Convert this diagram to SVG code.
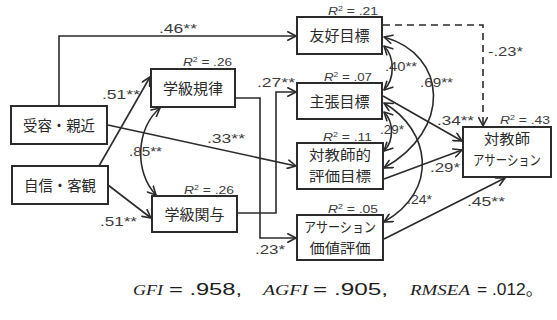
<svg xmlns="http://www.w3.org/2000/svg" width="557" height="320" viewBox="0 0 557 320">
  <defs>
    <marker id="arr" viewBox="0 0 10 10" refX="9.2" refY="5" markerWidth="10" markerHeight="10" markerUnits="userSpaceOnUse" orient="auto-start-reverse">
      <path d="M1,0.8 L9.2,5 L1,9.2" fill="none" stroke="#2b2b2b" stroke-width="1.6" stroke-linecap="round" stroke-linejoin="round"/>
    </marker>
    <style>
      .box { fill: #fff; stroke: #2b2b2b; stroke-width: 2; }
      .lbl { font-family: "Noto Sans CJK JP", "Noto Sans CJK SC", sans-serif; font-size: 15px; fill: #2b2b2b; text-anchor: middle; }
      .lbl2 { font-size: 14px; }
      .wire { fill: none; stroke: #2b2b2b; stroke-width: 1.6; }
      .path { marker-end: url(#arr); }
      .corr { marker-start: url(#arr); marker-end: url(#arr); }
      .dash { stroke-dasharray: 7 5; }
      .coef { font-family: "Liberation Sans", Arial, sans-serif; font-size: 13px; fill: #3c3c3c; }
      .r2 { font-family: "Liberation Sans", Arial, sans-serif; font-size: 11px; fill: #3c3c3c; text-anchor: end; }
      .fit { font-family: "Liberation Sans", "Noto Sans CJK JP", sans-serif; font-size: 16px; fill: #1e1e1e; }
      .fiti { font-family: "Liberation Serif", "Times New Roman", serif; font-style: italic; font-size: 15px; fill: #1e1e1e; }
    </style>
  </defs>

  <!-- paths and correlations -->
  <g id="connectors">
    <path class="wire path" d="M59,105 V36 H296"/>
    <path class="wire path" d="M108,125 L296,166"/>
    <path class="wire path" d="M99,166 L150,77"/>
    <path class="wire path" d="M108,185 L151,218"/>
    <path class="wire corr" d="M160,108 C136,128 134,172 156,195"/>
    <path class="wire path" d="M236,98 H260 V238 H296"/>
    <path class="wire path" d="M238,213 H276 V92 H296"/>
    <path class="wire path dash" d="M383,25 H483 V126"/>
    <path class="wire path" d="M383,96 L462,141"/>
    <path class="wire path" d="M384,179 L462,150"/>
    <path class="wire path" d="M384,239 L505,178"/>
    <path class="wire corr" d="M384,46 C395,57 395,79 384,90"/>
    <path class="wire corr" d="M384,37 C448,55 452,130 384,168"/>
    <path class="wire corr" d="M384,112 C394,122 394,141 384,151"/>
    <path class="wire corr" d="M384,103 C430,130 440,190 384,222"/>

    <text class="coef" x="159" y="33" textLength="38" lengthAdjust="spacingAndGlyphs">.46**</text>
    <text class="coef" x="207" y="143" textLength="38" lengthAdjust="spacingAndGlyphs">.33**</text>
    <text class="coef" x="102" y="99" textLength="38" lengthAdjust="spacingAndGlyphs">.51**</text>
    <text class="coef" x="100" y="226" textLength="37" lengthAdjust="spacingAndGlyphs">.51**</text>
    <text class="coef" x="129" y="156" textLength="33" lengthAdjust="spacingAndGlyphs">.85**</text>
    <text class="coef" x="257" y="87" textLength="38" lengthAdjust="spacingAndGlyphs">.27**</text>
    <text class="coef" x="255" y="254" textLength="30" lengthAdjust="spacingAndGlyphs">.23*</text>
    <text class="coef" x="488" y="56" textLength="35" lengthAdjust="spacingAndGlyphs">-.23*</text>
    <text class="coef" x="385" y="71" textLength="32" lengthAdjust="spacingAndGlyphs">.40**</text>
    <text class="coef" x="420" y="87" textLength="33" lengthAdjust="spacingAndGlyphs">.69**</text>
    <text class="coef" x="437" y="125" textLength="37" lengthAdjust="spacingAndGlyphs">.34**</text>
    <text class="coef" x="380" y="134" textLength="24" lengthAdjust="spacingAndGlyphs">.29*</text>
    <text class="coef" x="430" y="172" textLength="30" lengthAdjust="spacingAndGlyphs">.29*</text>
    <text class="coef" x="407" y="204" textLength="25" lengthAdjust="spacingAndGlyphs">.24*</text>
    <text class="coef" x="467" y="206" textLength="38" lengthAdjust="spacingAndGlyphs">.45**</text>
  </g>

  <g id="juyo">
    <rect class="box" x="11" y="106" width="96" height="38"/>
    <text class="lbl" x="59" y="130.5" textLength="72" lengthAdjust="spacingAndGlyphs">受容・親近</text>
  </g>
  <g id="jishin">
    <rect class="box" x="12" y="166" width="96" height="38"/>
    <text class="lbl" x="60" y="191" textLength="72" lengthAdjust="spacingAndGlyphs">自信・客観</text>
  </g>
  <g id="kiritsu">
    <rect class="box" x="151" y="69" width="84" height="38"/>
    <text class="lbl" x="193" y="93.5">学級規律</text>
    <text class="r2" x="232" y="66" textLength="49" lengthAdjust="spacingAndGlyphs"><tspan font-style="italic">R</tspan><tspan font-size="7" dy="-4">2</tspan><tspan dy="4"> = .26</tspan></text>
  </g>
  <g id="kanyo">
    <rect class="box" x="152" y="196" width="85" height="36"/>
    <text class="lbl" x="194.5" y="219.5">学級関与</text>
    <text class="r2" x="234" y="194" textLength="50" lengthAdjust="spacingAndGlyphs"><tspan font-style="italic">R</tspan><tspan font-size="7" dy="-4">2</tspan><tspan dy="4"> = .26</tspan></text>
  </g>
  <g id="yuko">
    <rect class="box" x="297" y="17" width="85" height="37"/>
    <text class="lbl" x="339.5" y="41">友好目標</text>
    <text class="r2" x="378" y="15" textLength="50" lengthAdjust="spacingAndGlyphs"><tspan font-style="italic">R</tspan><tspan font-size="7" dy="-4">2</tspan><tspan dy="4"> = .21</tspan></text>
  </g>
  <g id="shucho">
    <rect class="box" x="297" y="83" width="85" height="36"/>
    <text class="lbl" x="339.5" y="106.5">主張目標</text>
    <text class="r2" x="372" y="81" textLength="48" lengthAdjust="spacingAndGlyphs"><tspan font-style="italic">R</tspan><tspan font-size="7" dy="-4">2</tspan><tspan dy="4"> = .07</tspan></text>
  </g>
  <g id="hyoka">
    <rect class="box" x="297" y="143" width="86" height="46"/>
    <text class="lbl lbl2"><tspan x="340" y="160" textLength="62" lengthAdjust="spacingAndGlyphs">対教師的</tspan><tspan x="340" y="181" textLength="62" lengthAdjust="spacingAndGlyphs">評価目標</tspan></text>
    <text class="r2" x="372" y="141" textLength="49" lengthAdjust="spacingAndGlyphs"><tspan font-style="italic">R</tspan><tspan font-size="7" dy="-4">2</tspan><tspan dy="4"> = .11</tspan></text>
  </g>
  <g id="kachi">
    <rect class="box" x="297" y="215" width="86" height="45"/>
    <text class="lbl lbl2"><tspan x="340" y="232" textLength="72" lengthAdjust="spacingAndGlyphs">アサーション</tspan><tspan x="340" y="253" textLength="61" lengthAdjust="spacingAndGlyphs">価値評価</tspan></text>
    <text class="r2" x="378" y="213" textLength="50" lengthAdjust="spacingAndGlyphs"><tspan font-style="italic">R</tspan><tspan font-size="7" dy="-4">2</tspan><tspan dy="4"> = .05</tspan></text>
  </g>
  <g id="target">
    <rect class="box" x="463" y="127" width="88" height="50"/>
    <text class="lbl lbl2"><tspan x="507" y="144" textLength="46" lengthAdjust="spacingAndGlyphs">対教師</tspan><tspan x="507" y="165" textLength="68" lengthAdjust="spacingAndGlyphs">アサーション</tspan></text>
    <text class="r2" x="550" y="124" textLength="50" lengthAdjust="spacingAndGlyphs"><tspan font-style="italic">R</tspan><tspan font-size="7" dy="-4">2</tspan><tspan dy="4"> = .43</tspan></text>
  </g>

  <!-- model fit indices -->
  <g id="fit">
    <text class="fiti" x="133" y="295" textLength="30" lengthAdjust="spacingAndGlyphs">GFI</text>
    <text class="fit" x="169" y="295" textLength="73" lengthAdjust="spacingAndGlyphs">= .958,</text>
    <text class="fiti" x="263" y="295" textLength="45" lengthAdjust="spacingAndGlyphs">AGFI</text>
    <text class="fit" x="313" y="295" textLength="75" lengthAdjust="spacingAndGlyphs">= .905,</text>
    <text class="fiti" x="410" y="295" textLength="60" lengthAdjust="spacingAndGlyphs">RMSEA</text>
    <text class="fit" x="477" y="295" textLength="66" lengthAdjust="spacingAndGlyphs">= .012。</text>
  </g>
</svg>
